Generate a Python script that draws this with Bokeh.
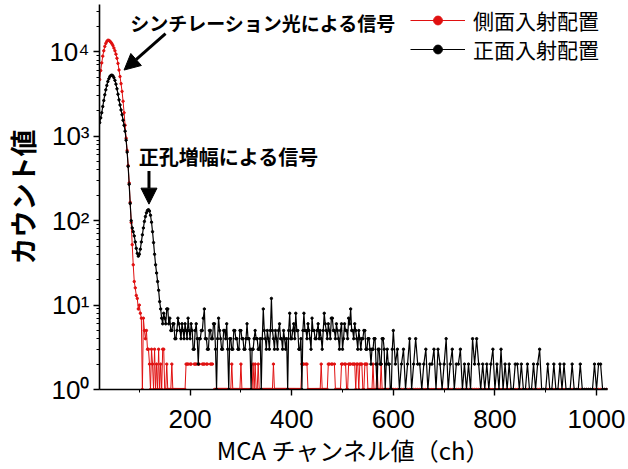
from bokeh.plotting import figure
from bokeh.models import (Range1d, FixedTicker, Label, Arrow, NormalHead,
                          Legend, LegendItem, ColumnDataSource)
from bokeh.embed import file_html
from bokeh.resources import INLINE

# ---------------- data ----------------
channels = (list(range(22, 148, 2)) + list(range(148, 600, 2))
            + list(range(600, 1024, 4)))

# 側面入射配置 (red)
side_counts = [
    # 22 ... 146 step 2
    4700, 6000, 7400, 8900, 10300, 11600, 12600, 13300, 13700, 13700,
    13400, 13000, 12500, 11900, 11100, 10300, 9400, 8400, 7300, 6100,
    5100, 4200, 3400, 2600, 1900, 1350, 950, 680, 450, 280,
    165, 95, 52, 30, 19, 16, 13, 12, 9, 10,
    8, 7, 1, 7, 5, 4, 5, 3, 3, 2,
    1, 3, 2, 1, 3, 1, 2, 1, 3, 1,
    2, 1, 3,
    # 148 ... 598 step 2
    3, 1, 1, 2, 1, 1, 1, 1, 2, 1,
    1, 1, 1, 1, 1, 1, 1, 1, 1, 1,
    1, 1, 2, 2, 2, 0, 2, 2, 0, 0,
    2, 2, 2, 0, 2, 2, 0, 0, 2, 2,
    2, 0, 2, 2, 0, 0, 2, 2, 2, 0,
    1, 1, 1, 1, 1, 1, 1, 1, 1, 1,
    1, 1, 1, 1, 1, 1, 1, 2, 1, 1,
    1, 1, 1, 1, 1, 1, 2, 1, 1, 1,
    1, 1, 1, 1, 1, 1, 1, 1, 2, 1,
    2, 1, 1, 2, 1, 1, 1, 1, 1, 1,
    1, 1, 1, 1, 1, 1, 1, 1, 2, 1,
    1, 1, 1, 1, 1, 1, 1, 1, 1, 1,
    1, 1, 1, 1, 1, 1, 1, 1, 1, 1,
    1, 1, 1, 1, 1, 1, 2, 2, 2, 0,
    2, 2, 1, 1, 1, 1, 1, 1, 1, 1,
    1, 1, 1, 1, 1, 2, 1, 1, 1, 1,
    1, 1, 2, 2, 0, 2, 2, 0, 2, 1,
    1, 1, 1, 1, 1, 2, 2, 0, 2, 2,
    1, 1, 2, 2, 2, 0, 2, 2, 2, 1,
    2, 2, 1, 2, 2, 2, 1, 1, 2, 2,
    2, 1, 1, 1, 1, 1, 2, 1, 1, 1,
    2, 1, 1, 1, 2, 1, 1, 1, 1, 1,
    1, 1, 1, 1, 1, 1,
    # 600 ... 1020 step 4
    1, 1, 1, 1, 1, 1, 1,
    1, 1, 1, 1, 1, 1, 1, 1, 1, 1,
    1, 1, 1, 1, 1, 1, 1, 1, 1, 1,
    1, 1, 1, 1, 1, 1, 1, 1, 1, 1,
    1, 1, 1, 1, 1, 1, 1, 1, 1, 1,
    1, 1, 1, 1, 1, 1, 1, 1, 1, 1,
    1, 1, 1, 1, 1, 1, 1, 1, 1, 1,
    1, 1, 1, 1, 1, 1, 1, 1, 1, 1,
    1, 1, 1, 1, 1, 1, 1, 1, 1, 1,
    1, 1, 1, 1, 1, 1, 1, 1, 1, 1,
    1, 1, 1, 1, 1, 1, 1, 1, 1,
]

# 正面入射配置 (black)
front_counts = [
    # 22 ... 146 step 2
    1450, 1650, 1900, 2250, 2650, 3100, 3550, 4000, 4450, 4800,
    5100, 5250, 5300, 5200, 4950, 4600, 4150, 3650, 3150, 2700,
    2350, 2050, 1800, 1550, 1350, 1150, 900, 650, 440, 270,
    160, 100, 82, 74, 66, 56, 47, 41, 38, 40,
    46, 56, 68, 82, 98, 112, 124, 132, 135, 130,
    116, 96, 74, 55, 40, 30, 24, 19, 15, 11,
    9, 7, 6,
    # 148 ... 598 step 2
    8, 7, 6, 9, 9, 6, 7, 5, 5, 6,
    6, 4, 4, 5, 7, 6, 5, 4, 6, 5,
    4, 6, 5, 4, 7, 5, 4, 6, 5, 3,
    3, 5, 6, 4, 2, 4, 4, 5, 5, 7,
    9, 4, 4, 3, 3, 5, 5, 4, 4, 6,
    6, 3, 1, 4, 7, 5, 4, 3, 3, 5,
    5, 4, 6, 3, 1, 4, 4, 3, 3, 5,
    5, 4, 4, 3, 3, 5, 5, 4, 4, 3,
    3, 4, 6, 4, 4, 3, 1, 3, 3, 4,
    5, 4, 4, 3, 3, 4, 1, 4, 9, 5,
    4, 3, 5, 4, 3, 5, 12, 5, 4, 3,
    5, 4, 3, 5, 6, 4, 4, 3, 5, 4,
    3, 4, 1, 5, 8, 4, 4, 5, 6, 4,
    8, 5, 5, 3, 3, 4, 1, 5, 8, 5,
    5, 4, 6, 5, 4, 3, 7, 5, 5, 4,
    4, 5, 6, 4, 5, 4, 3, 5, 8, 6,
    5, 4, 6, 5, 4, 7, 7, 5, 5, 4,
    6, 5, 4, 3, 5, 6, 3, 4, 6, 5,
    5, 4, 7, 6, 9, 5, 5, 4, 6, 5,
    4, 3, 5, 4, 3, 4, 4, 5, 5, 3,
    3, 4, 4, 3, 2, 3, 3, 4, 4, 2,
    1, 3, 3, 2, 2, 4, 4, 3, 1, 2,
    3, 2, 2, 1, 1, 3,
    # 600 ... 1020 step 4
    5, 2, 3, 1, 2, 3, 1,
    2, 4, 1, 2, 4, 2, 2, 1, 2, 3,
    1, 2, 2, 3, 1, 3, 2, 1, 2, 4,
    1, 2, 3, 1, 2, 2, 3, 1, 2, 1,
    2, 1, 4, 2, 4, 2, 1, 2, 1, 2,
    1, 2, 3, 1, 2, 1, 3, 1, 2, 1,
    2, 1, 1, 2, 2, 1, 2, 1, 1, 2,
    1, 1, 2, 1, 2, 3, 1, 1, 1, 2,
    1, 1, 2, 1, 1, 2, 1, 2, 1, 1,
    1, 2, 1, 1, 1, 2, 1, 1, 1, 1,
    1, 1, 2, 1, 2, 2, 1, 1, 1,
]

series_names = ["側面入射配置", "正面入射配置"]
y_ticks = [1, 10, 100, 1000, 10000]
y_tick_labels = ["10⁰", "10¹", "10²", "10³", "10⁴"]
x_ticks = [200, 400, 600, 800, 1000]
x_minor = [100, 300, 500, 700, 900]
x_title = "MCA チャンネル値（ch）"
y_title = "カウント値"
note_scint = "シンチレーション光による信号"
note_hole = "正孔増幅による信号"


def plot_values(counts):
    # zero counts cannot be shown on a log axis -> gap in the line
    return [v if v > 0 else float("nan") for v in counts]


# ---------------- figure ----------------
p = figure(width=628, height=469, y_axis_type="log",
           x_range=Range1d(21.6, 1021.6), y_range=Range1d(1, 36400),
           output_backend="svg", toolbar_location=None,
           min_border_left=97, min_border_right=21,
           min_border_top=4, min_border_bottom=77)
p.outline_line_color = None
p.xgrid.visible = False
p.ygrid.visible = False
p.background_fill_color = "white"
p.border_fill_color = "white"

RED = "#e01010"
src_side = ColumnDataSource(dict(x=channels, y=plot_values(side_counts)))
src_front = ColumnDataSource(dict(x=channels, y=plot_values(front_counts)))

r1l = p.line("x", "y", source=src_side, line_color=RED, line_width=1)
r1s = p.scatter("x", "y", source=src_side, size=2.4, color=RED)
r2l = p.line("x", "y", source=src_front, line_color="black", line_width=1.2)
r2s = p.scatter("x", "y", source=src_front, size=2.4, color="black")

# axes
tick_font = "Liberation Sans"
for ax in (p.xaxis[0], p.yaxis[0]):
    ax.axis_line_width = 1.6
    ax.axis_line_color = "black"
    ax.major_tick_line_color = "black"
    ax.minor_tick_line_color = "black"
    ax.major_tick_line_width = 1.4
    ax.minor_tick_line_width = 1
    ax.major_tick_out = 6
    ax.major_tick_in = 0
    ax.minor_tick_out = 3
    ax.minor_tick_in = 0
    ax.major_label_text_font = tick_font
    ax.major_label_text_font_size = "26px"
    ax.major_label_text_color = "black"

p.xaxis.ticker = FixedTicker(ticks=x_ticks, minor_ticks=x_minor)
p.xaxis.major_label_standoff = 14
p.xaxis.axis_label = x_title
p.xaxis.axis_label_text_font = "Noto Sans CJK JP"
p.xaxis.axis_label_text_font_size = "24px"
p.xaxis.axis_label_text_font_style = "normal"
p.xaxis.axis_label_text_color = "black"
p.xaxis.axis_label_standoff = 1

y_minor = [m * d for d in (1, 10, 100, 1000, 10000) for m in range(2, 10)]
p.yaxis.ticker = FixedTicker(ticks=y_ticks, minor_ticks=y_minor)
p.yaxis.major_label_overrides = {t: l for t, l in zip(y_ticks, y_tick_labels)}
p.yaxis.major_label_standoff = 4
p.yaxis.axis_label = y_title
p.yaxis.axis_label_text_font = "Noto Sans CJK JP"
p.yaxis.axis_label_text_font_size = "27px"
p.yaxis.axis_label_text_font_style = "bold"
p.yaxis.axis_label_text_color = "black"
p.yaxis.axis_label_standoff = 4

# legend: one block per series so that the rows can sit close together
leg_style = dict(margin=0, padding=0, spacing=0,
                 glyph_width=55, glyph_height=22, label_height=22,
                 label_standoff=8, border_line_color=None,
                 background_fill_color=None, background_fill_alpha=0,
                 label_text_font="Noto Sans CJK JP",
                 label_text_font_size="21px", label_text_color="black")
leg1 = Legend(items=[LegendItem(label=series_names[0], renderers=[r1l, r1s])],
              location=(311, 354), **leg_style)
leg2 = Legend(items=[LegendItem(label=series_names[1], renderers=[r2l, r2s])],
              location=(311, 325), **leg_style)
p.add_layout(leg1)
p.add_layout(leg2)

# annotations
cjk = "Noto Sans CJK JP"
p.add_layout(Label(x=82, y=22500, text=note_scint,
                   text_font=cjk, text_font_size="19px", text_font_style="bold",
                   text_baseline="middle", text_color="black"))
p.add_layout(Label(x=99, y=582, text=note_hole,
                   text_font=cjk, text_font_size="20px", text_font_style="bold",
                   text_baseline="middle", text_color="black"))
p.add_layout(Arrow(end=NormalHead(size=16, fill_color="black", line_color="black"),
                   x_start=151.6, y_start=16450, x_end=70, y_end=6090,
                   line_width=3, line_color="black"))
p.add_layout(Arrow(end=NormalHead(size=16, fill_color="black", line_color="black"),
                   x_start=119, y_start=387, x_end=119, y_end=157,
                   line_width=3, line_color="black"))

open("out.html", "w").write(file_html(p, INLINE))
